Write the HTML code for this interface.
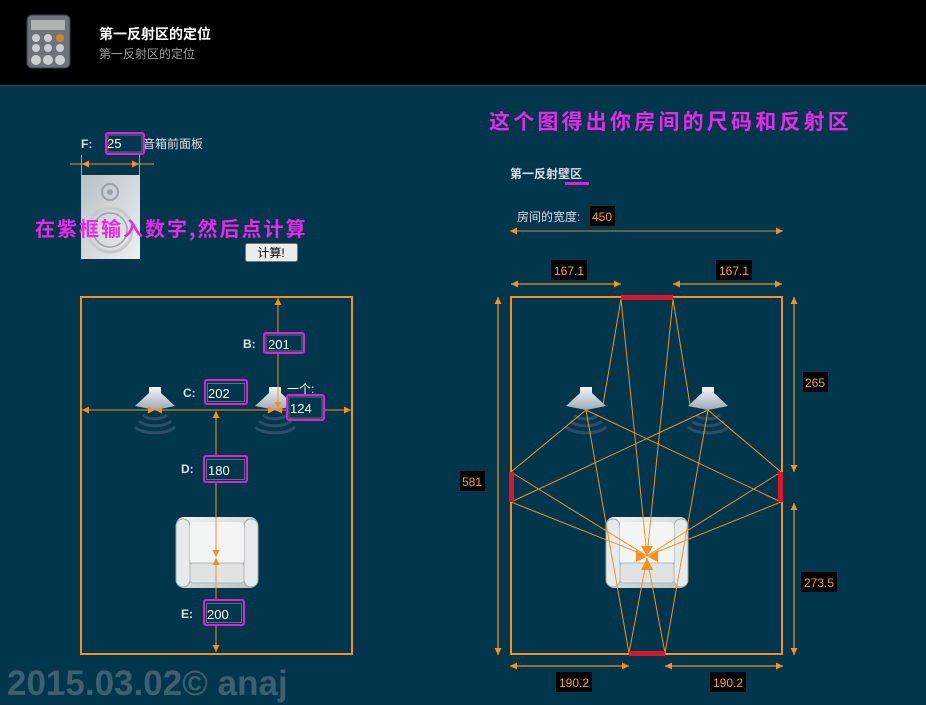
<!DOCTYPE html>
<html><head><meta charset="utf-8"><style>
html,body{margin:0;padding:0;width:926px;height:705px;overflow:hidden;background:#02364d;font-family:"Liberation Sans","Noto Sans CJK SC",sans-serif}
</style></head><body>
<svg width="926" height="705" viewBox="0 0 926 705" xmlns="http://www.w3.org/2000/svg" style="position:absolute;left:0;top:0">
<defs>
<marker id="a" viewBox="0 0 10 10" refX="10" refY="5" markerWidth="9" markerHeight="7" orient="auto-start-reverse" markerUnits="userSpaceOnUse"><path d="M0,0 L10,5 L0,10 Z" fill="#f7901e"/></marker>
<linearGradient id="sp" x1="0" y1="0" x2="0" y2="1"><stop offset="0" stop-color="#f4f6f8"/><stop offset="1" stop-color="#9aa8b4"/></linearGradient>
<linearGradient id="ch" x1="0" y1="0" x2="1" y2="1"><stop offset="0" stop-color="#f2f4f3"/><stop offset="1" stop-color="#b9c0c0"/></linearGradient>
<linearGradient id="bx" x1="0" y1="0" x2="1" y2="1"><stop offset="0" stop-color="#b8c0c6"/><stop offset="1" stop-color="#eef0f0"/></linearGradient>
<g id="spk"><path d="M-6,-23 L6,-23 L6,-17 L20,-4 L0,0 L-20,-4 L-6,-17 Z" fill="url(#sp)"/>
<path d="M-12,5 A14,8 0 0 0 12,5 M-16,11 A18,9 0 0 0 16,11 M-20,17 A22,10 0 0 0 20,17" stroke="#2c4d68" stroke-width="3" fill="none"/></g>
<g id="chair"><rect x="0" y="0" width="82" height="71" rx="8" fill="url(#ch)"/>
<rect x="0" y="2" width="14" height="68" rx="7" fill="#e6eaea" stroke="#9aa" stroke-width="1"/>
<rect x="68" y="2" width="14" height="68" rx="7" fill="#e6eaea" stroke="#9aa" stroke-width="1"/>
<rect x="14" y="5" width="54" height="42" rx="4" fill="#f3f5f4"/>
<rect x="14" y="46" width="54" height="20" rx="3" fill="#dfe4e3" stroke="#b0b8b8"/></g>
</defs>
<rect x="0" y="0" width="926" height="85" fill="#000"/>
<rect x="0" y="85" width="926" height="1" fill="#1d4e64"/>
<rect x="27" y="15" width="43" height="53" rx="5" fill="#6d7378" stroke="#3a3e42"/>
<rect x="31" y="20" width="34" height="10" rx="1" fill="#aeb4b0"/>
<g fill="#c9cfd3"><circle cx="36" cy="38" r="4"/><circle cx="48" cy="38" r="4"/><circle cx="60" cy="38" r="4" fill="#d9822b"/><circle cx="36" cy="48" r="4"/><circle cx="48" cy="48" r="4"/><circle cx="60" cy="48" r="4"/><circle cx="36" cy="60" r="5"/><circle cx="48" cy="60" r="5"/><circle cx="60" cy="60" r="5"/></g>
<text x="99" y="39" font-size="14" font-weight="bold" fill="#fff">第一反射区的定位</text>
<text x="99" y="58" font-size="12" fill="#9a9a9a">第一反射区的定位</text>

<!-- F row -->
<text x="81" y="148" font-size="12" font-weight="bold" fill="#cfe3ee">F:</text>
<text x="143" y="148" font-size="12" fill="#dde">音箱前面板</text>
<line x1="70" y1="164" x2="154" y2="164" stroke="#f7901e"/>
<line x1="82" y1="164" x2="139" y2="164" stroke="#f7901e" marker-start="url(#a)" marker-end="url(#a)"/>
<line x1="81.5" y1="155" x2="81.5" y2="175" stroke="#f7901e"/><line x1="139.5" y1="155" x2="139.5" y2="175" stroke="#f7901e"/>
<rect x="81" y="175" width="59" height="84" fill="url(#bx)"/>
<circle cx="110" cy="192" r="8" fill="none" stroke="#9aa2a8" stroke-width="2"/><circle cx="110" cy="192" r="3" fill="#9aa2a8"/>
<circle cx="110" cy="230" r="22" fill="none" stroke="#c4cacd" stroke-width="3"/><circle cx="110" cy="230" r="17" fill="none" stroke="#9aa2a8" stroke-width="1.5"/>
<rect x="245.5" y="243.5" width="52" height="18" rx="2" fill="#ececec" stroke="#777"/>
<text x="271" y="257" font-size="12" fill="#000" text-anchor="middle">计算!</text>

<!-- magenta notes -->
<text x="489" y="129" font-size="21" font-weight="bold" fill="#e62be6" letter-spacing="3.2" font-family="'Noto Sans CJK SC',sans-serif">这个图得出你房间的尺码和反射区</text>
<text x="35" y="236" font-size="20" font-weight="bold" fill="#e62be6" letter-spacing="2" font-family="'Noto Sans CJK SC',sans-serif">在紫框输入数字,然后点计算</text>

<!-- left room -->
<rect x="81" y="297" width="271" height="357" fill="none" stroke="#f7901e" stroke-width="2"/>
<use href="#spk" x="155" y="410"/><use href="#spk" x="275" y="410"/>
<use href="#chair" x="176" y="517"/>
<line x1="82" y1="410" x2="155" y2="410" stroke="#f7901e" marker-start="url(#a)" marker-end="url(#a)"/>
<line x1="155" y1="410" x2="275" y2="410" stroke="#f7901e" marker-start="url(#a)" marker-end="url(#a)"/>
<line x1="275" y1="410" x2="351" y2="410" stroke="#f7901e" marker-start="url(#a)" marker-end="url(#a)"/>
<line x1="278" y1="298" x2="278" y2="409" stroke="#f7901e" marker-start="url(#a)" marker-end="url(#a)"/>
<line x1="216" y1="411" x2="216" y2="557" stroke="#f7901e" marker-start="url(#a)" marker-end="url(#a)"/>
<line x1="216" y1="558" x2="216" y2="652" stroke="#f7901e" marker-start="url(#a)" marker-end="url(#a)"/>
<g font-size="12" font-weight="bold" fill="#cfe3ee"><text x="243" y="348">B:</text><text x="183" y="397">C:</text><text x="181" y="473">D:</text><text x="181" y="618">E:</text></g>
<text x="287" y="393" font-size="12" fill="#fff">一个:</text>
<g fill="#02364d" stroke-width="2" stroke="#e21fd8">
<rect x="106" y="133" width="38" height="21" rx="2"/><rect x="264" y="333" width="40" height="20" rx="2"/><rect x="205" y="380" width="42" height="24" rx="2"/><rect x="287" y="395" width="37" height="25" rx="2"/><rect x="204" y="456" width="43" height="26" rx="2"/><rect x="204" y="600" width="40" height="25" rx="2"/></g>
<g fill="none" stroke="#5c7180"><rect x="108" y="135" width="34" height="17"/><rect x="266" y="335" width="36" height="16"/><rect x="207.5" y="383.5" width="37" height="18"/><rect x="289" y="397" width="33" height="21"/><rect x="206.5" y="459.5" width="38" height="20"/><rect x="206.5" y="603.5" width="35" height="19"/></g>
<g font-size="13" fill="#fff"><text x="107" y="148">25</text><text x="268" y="349">201</text><text x="208" y="398">202</text><text x="290" y="413">124</text><text x="208" y="475">180</text><text x="207" y="619">200</text></g>

<!-- right -->
<text x="510" y="178" font-size="12" font-weight="bold" fill="#dde">第一反射壁区</text>
<rect x="565" y="182" width="24" height="3" fill="#e21fd8"/>
<text x="517" y="221" font-size="12" fill="#dde">房间的宽度:</text>
<rect x="590" y="206" width="25" height="20" fill="#000"/><text x="592" y="221" font-size="12" fill="#f7a21e">450</text>
<line x1="510" y1="231" x2="783" y2="231" stroke="#c88a3a" marker-start="url(#a)" marker-end="url(#a)"/>

<rect x="511" y="297" width="271" height="357" fill="none" stroke="#f7901e" stroke-width="2"/>
<use href="#spk" x="586" y="410"/><use href="#spk" x="708" y="410"/>
<use href="#chair" x="606" y="517"/>
<g stroke="#f7901e" stroke-width="1" fill="none">
<polyline points="603,405 621,299 647,556"/><polyline points="690,405 673,299 647,556"/>
<polyline points="586,410 511,472 647,556"/><polyline points="708,410 511,502 647,556"/>
<polyline points="708,410 781,472 647,556"/><polyline points="586,410 781,502 647,556"/>
<polyline points="586,410 629,653 647,558"/><polyline points="708,410 665,653 647,558"/>
</g>
<path d="M641,546 L653,546 L647,556Z M641,570 L653,570 L647,558Z M636,550 L636,562 L646,557Z M658,550 L658,562 L648,557Z" fill="#f7901e"/>
<g fill="#d8182a"><rect x="621" y="295" width="52" height="5"/><rect x="509" y="472" width="5" height="30"/><rect x="778" y="472" width="5" height="30"/><rect x="629" y="651" width="36" height="5"/></g>
<g stroke="#f7901e" stroke-width="1.2">
<line x1="511" y1="284" x2="621" y2="284" marker-start="url(#a)" marker-end="url(#a)"/>
<line x1="673" y1="284" x2="782" y2="284" marker-start="url(#a)" marker-end="url(#a)"/>
<line x1="498" y1="297" x2="498" y2="655" marker-start="url(#a)" marker-end="url(#a)"/>
<line x1="794" y1="297" x2="794" y2="472" marker-start="url(#a)" marker-end="url(#a)"/>
<line x1="794" y1="503" x2="794" y2="655" marker-start="url(#a)" marker-end="url(#a)"/>
<line x1="510" y1="666" x2="629" y2="666" marker-start="url(#a)" marker-end="url(#a)"/>
<line x1="665" y1="666" x2="783" y2="666" marker-start="url(#a)" marker-end="url(#a)"/>
</g>
<g fill="#000"><rect x="551" y="260" width="36" height="20"/><rect x="716" y="260" width="36" height="20"/><rect x="460" y="471" width="25" height="20"/><rect x="803" y="372" width="25" height="20"/><rect x="801" y="572" width="36" height="20"/><rect x="556" y="672" width="36" height="20"/><rect x="710" y="672" width="36" height="20"/></g>
<g font-size="12" fill="#f7a21e" text-anchor="middle"><text x="569" y="275">167.1</text><text x="734" y="275">167.1</text><text x="472" y="486">581</text><text x="815" y="387">265</text><text x="819" y="587">273.5</text><text x="574" y="687">190.2</text><text x="728" y="687">190.2</text></g>

<text x="7" y="695" font-size="35" font-weight="bold" fill="#3c5f72">2015.03.02© anaj</text>
</svg>
</body></html>
